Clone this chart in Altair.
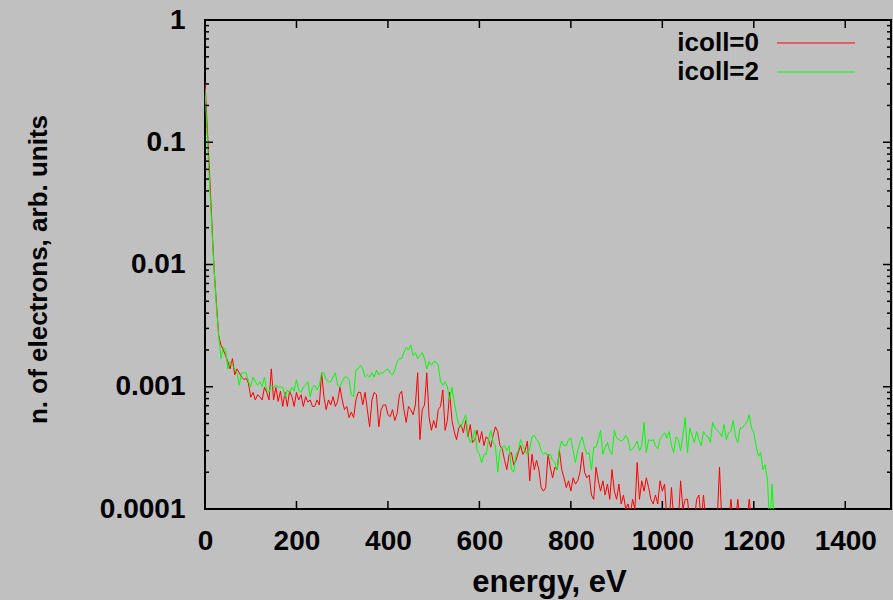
import altair as alt
import pandas as pd

# ---------------- data ----------------
series_names = ["icoll=0", "icoll=2"]

energy_red = list(range(0, 1205, 5))
red_values = [
    0.31, 0.13, 0.055, 0.022, 0.009, 0.0048, 0.0026, 0.0022, 0.0020, 0.0018,
    0.0016, 0.0014, 0.0017, 0.00125, 0.0014, 0.0013, 0.0012, 0.00115, 0.00117, 0.00107,
    0.00082, 0.0009, 0.00078, 0.00086, 0.00083, 0.00078, 0.00099, 0.0009, 0.00078, 0.0014,
    0.00078, 0.00099, 0.00076, 0.00092, 0.00069, 0.0009, 0.00069, 0.00092, 0.00083, 0.00069,
    0.0009, 0.00078, 0.00086, 0.00069, 0.00083, 0.00075, 0.00078, 0.00069, 0.00069, 0.00078,
    0.00071, 0.0013, 0.00083, 0.00065, 0.00078, 0.00071, 0.00083, 0.00069, 0.00076, 0.00099,
    0.00078, 0.00065, 0.00069, 0.00056, 0.00062, 0.00056, 0.00078, 0.0009, 0.0009, 0.00071,
    0.0009, 0.00065, 0.00047, 0.00078, 0.0009, 0.00086, 0.00047, 0.00065, 0.00071, 0.00071,
    0.00059, 0.00057, 0.00065, 0.00053, 0.0006, 0.00086, 0.00092, 0.00065, 0.00051, 0.00069,
    0.00065, 0.00059, 0.00071, 0.0013, 0.00037, 0.00065, 0.00071, 0.0013, 0.00056, 0.00044,
    0.00053, 0.00046, 0.00065, 0.00069, 0.00094, 0.00044, 0.00053, 0.0009, 0.00053, 0.00043,
    0.00037, 0.00046, 0.00049, 0.00042, 0.00053, 0.00039, 0.00049, 0.00035, 0.00037, 0.00044,
    0.00035, 0.00043, 0.00033, 0.00039, 0.00037, 0.00032, 0.0004, 0.00047, 0.00043, 0.00033,
    0.00031, 0.00025, 0.00021, 0.00028, 0.00029, 0.00023, 0.00025, 0.00029, 0.00033, 0.00028,
    0.0003, 0.00036, 0.00017, 0.00028, 0.00021, 0.00025, 0.00021, 0.00015, 0.00014, 0.00015,
    0.00028, 0.00022, 0.00018, 0.00022, 0.00021, 0.0003, 0.00021, 0.00018, 0.00015, 0.00017,
    0.00014, 0.00018, 0.00016, 0.00017, 0.0002, 0.00029, 0.0002, 0.00018, 0.00019, 0.00013,
    0.00012, 0.00022, 0.00017, 0.00014, 0.00017, 0.00013, 0.00016, 0.00012, 0.00021, 0.00014,
    0.00012, 0.00016, 0.00011, 0.00013, 0.0001, 0.00011, 0.00009, 0.00012, 0.0001, 0.00024,
    0.00012, 0.00017, 0.00014, 0.00018, 0.00015, 0.00012, 0.00011, 0.00013, 0.00011, 0.00017,
    0.00014, 0.00016, 0.00008, 0.00008, 0.00015, 0.00008, 0.00007, 0.00008, 0.00017, 0.0001,
    0.00012, 0.00012, 0.00008, 0.00007, 0.00008, 0.00012, 0.00013, 0.00008, 0.00013, 0.00008,
    0.00007, 0.00008, 0.00008, 0.00008, 0.00008, 0.00022, 0.00008, 0.00007, 0.00008, 0.00008,
    0.00012, 0.00008, 0.00008, 0.00012, 0.00008, 0.00007, 0.00008, 0.00008, 0.00012, 0.00008,
    0.00007,
]

energy_green = list(range(0, 1250, 5))
green_values = [
    0.27, 0.11, 0.045, 0.02, 0.009, 0.0045, 0.0026, 0.0017, 0.0021, 0.002,
    0.0014, 0.0016, 0.0015, 0.0014, 0.0013, 0.00103, 0.0013, 0.0013, 0.0013, 0.0011,
    0.001, 0.0012, 0.0011, 0.00103, 0.0011, 0.001, 0.0012, 0.00094, 0.0009, 0.00103,
    0.00099, 0.00103, 0.00099, 0.001, 0.00099, 0.00083, 0.00094, 0.0009, 0.00099, 0.00092,
    0.00114, 0.00094, 0.0009, 0.00099, 0.00103, 0.0011, 0.00083, 0.00099, 0.00103, 0.00094,
    0.00103, 0.0013, 0.0013, 0.00114, 0.0011, 0.0011, 0.0012, 0.0013, 0.00103, 0.001,
    0.0011, 0.0012, 0.0012, 0.00114, 0.00086, 0.00083, 0.00137, 0.0014, 0.0015, 0.0014,
    0.0012, 0.00125, 0.0012, 0.0013, 0.0012, 0.00137, 0.00125, 0.0013, 0.0013, 0.00137,
    0.0014, 0.0013, 0.00125, 0.00137, 0.0016, 0.0017, 0.0017, 0.0019, 0.0021, 0.002,
    0.0022, 0.0018, 0.0019, 0.0017, 0.0018, 0.0019, 0.0017, 0.0014, 0.0016, 0.0015,
    0.0016, 0.0016, 0.0015, 0.0011, 0.00103, 0.0011, 0.001, 0.00078, 0.00099, 0.00075,
    0.00059, 0.00049, 0.00047, 0.00053, 0.00059, 0.0004, 0.00035, 0.00037, 0.00044, 0.0003,
    0.00028, 0.00024, 0.00028, 0.00028, 0.00037, 0.00044, 0.00035, 0.00033, 0.0002, 0.0003,
    0.00032, 0.00033, 0.0003, 0.00033, 0.00021, 0.0002, 0.00028, 0.0003, 0.00037, 0.00033,
    0.0003, 0.00028, 0.00031, 0.00039, 0.0004, 0.00037, 0.00035, 0.0003, 0.00028, 0.00029,
    0.00027, 0.00028, 0.00025, 0.00024, 0.00021, 0.00031, 0.00036, 0.00033, 0.00033, 0.00037,
    0.00038, 0.0003, 0.00024, 0.0003, 0.00035, 0.00039, 0.00032, 0.00028, 0.00029, 0.00021,
    0.00032, 0.00032, 0.00037, 0.00044, 0.00028, 0.00032, 0.00035, 0.0003, 0.00028, 0.00044,
    0.00038, 0.00037, 0.00036, 0.00037, 0.0004, 0.00037, 0.0003, 0.00031, 0.00033, 0.00036,
    0.0003, 0.00033, 0.00051, 0.00029, 0.00037, 0.00036, 0.00037, 0.00033, 0.00031, 0.00037,
    0.0004, 0.00042, 0.00038, 0.00043, 0.00033, 0.00029, 0.00039, 0.00037, 0.0003, 0.0004,
    0.00056, 0.00029, 0.00046, 0.0004, 0.00035, 0.00043, 0.00037, 0.00033, 0.00043, 0.0004,
    0.00039, 0.00035, 0.00051, 0.00046, 0.00044, 0.00042, 0.00039, 0.00049, 0.00037, 0.00042,
    0.00043, 0.00053, 0.00039, 0.00035, 0.00046, 0.00046, 0.00049, 0.00051, 0.00059, 0.00046,
    0.00042, 0.00033, 0.00027, 0.00029, 0.00021, 0.00023, 0.00017, 0.00007, 0.00016, 0.00007,
]

x_tick_values = [0, 200, 400, 600, 800, 1000, 1200, 1400]
y_tick_values = [1, 0.1, 0.01, 0.001, 0.0001]
y_minor_values = [m * d for d in [0.0001, 0.001, 0.01, 0.1] for m in range(2, 10)]

# ---------------- layout / style ----------------
W, H = 686, 489
FONT = "Liberation Sans"
LABEL_FS = 28
XTITLE_FS = 31
YTITLE_FS = 26
LEGEND_FS = 26
BG = "#c0c0c0"

xscale = alt.Scale(domain=[0, 1500], nice=False, zero=False)
yscale = alt.Scale(type="log", domain=[0.0001, 1], nice=False)

red_df = pd.DataFrame({"energy": energy_red, "n": red_values})
green_df = pd.DataFrame({"energy": energy_green, "n": green_values})

x_axis = alt.Axis(
    values=x_tick_values, format="d", title="energy, eV", ticks=False, tickSize=0,
    domain=False, grid=False, labelFont=FONT, labelFontSize=LABEL_FS,
    labelFontWeight="bold", labelColor="black", labelPadding=18, labelFlush=False,
    labelOverlap=False, titleFont=FONT, titleFontSize=XTITLE_FS, titleFontWeight="bold",
    titleColor="black", titleX=344, titleY=73, titleBaseline="middle", titleAlign="center",
)
y_axis = alt.Axis(
    values=y_tick_values, format="~g", title="n. of electrons, arb. units",
    ticks=False, tickSize=0, domain=False, grid=False, labelFont=FONT,
    labelFontSize=LABEL_FS, labelFontWeight="bold", labelColor="black", labelPadding=20,
    labelFlush=False, labelOverlap=False, titleFont=FONT, titleFontSize=YTITLE_FS,
    titleFontWeight="bold", titleColor="black", titleX=-167, titleY=249,
    titleAngle=270, titleBaseline="middle", titleAlign="center",
)

red_line = alt.Chart(red_df).mark_line(color="#ff0000", strokeWidth=1, clip=True).encode(
    x=alt.X("energy:Q", scale=xscale, axis=x_axis),
    y=alt.Y("n:Q", scale=yscale, axis=y_axis),
)
green_line = alt.Chart(green_df).mark_line(color="#00ff00", strokeWidth=1, clip=True).encode(
    x=alt.X("energy:Q", scale=xscale),
    y=alt.Y("n:Q", scale=yscale),
)

xt = pd.DataFrame({"v": x_tick_values[1:]})
ymaj = pd.DataFrame({"v": y_tick_values[1:-1]})
ymin = pd.DataFrame({"v": y_minor_values})

tick_style = dict(color="black", strokeWidth=1.5)
x_bottom = alt.Chart(xt).mark_rule(**tick_style).encode(
    x=alt.X("v:Q", scale=xscale), y=alt.value(H), y2=alt.value(H - 8))
x_top = alt.Chart(xt).mark_rule(**tick_style).encode(
    x=alt.X("v:Q", scale=xscale), y=alt.value(0), y2=alt.value(8))
y_left_major = alt.Chart(ymaj).mark_rule(**tick_style).encode(
    y=alt.Y("v:Q", scale=yscale), x=alt.value(0), x2=alt.value(8))
y_right_major = alt.Chart(ymaj).mark_rule(**tick_style).encode(
    y=alt.Y("v:Q", scale=yscale), x=alt.value(W), x2=alt.value(W - 8))
y_left_minor = alt.Chart(ymin).mark_rule(**tick_style).encode(
    y=alt.Y("v:Q", scale=yscale), x=alt.value(0), x2=alt.value(4))
y_right_minor = alt.Chart(ymin).mark_rule(**tick_style).encode(
    y=alt.Y("v:Q", scale=yscale), x=alt.value(W), x2=alt.value(W - 4))

# legend (gnuplot style: text left, line sample right)
leg_text_style = dict(align="right", baseline="middle", font=FONT, fontSize=LEGEND_FS,
                      fontWeight="bold", color="black")
leg0_text = alt.Chart(pd.DataFrame({"t": [series_names[0]]})).mark_text(**leg_text_style).encode(
    text="t:N", x=alt.value(554), y=alt.value(23))
leg1_text = alt.Chart(pd.DataFrame({"t": [series_names[1]]})).mark_text(**leg_text_style).encode(
    text="t:N", x=alt.value(554), y=alt.value(52))
leg0_line = alt.Chart(pd.DataFrame({"t": [series_names[0]]})).mark_rule(color="#ff0000", strokeWidth=1).encode(
    x=alt.value(572), x2=alt.value(650), y=alt.value(23))
leg1_line = alt.Chart(pd.DataFrame({"t": [series_names[1]]})).mark_rule(color="#00ff00", strokeWidth=1).encode(
    x=alt.value(572), x2=alt.value(650), y=alt.value(52))

chart = alt.layer(
    red_line, green_line,
    x_bottom, x_top, y_left_major, y_right_major, y_left_minor, y_right_minor,
    leg0_text, leg1_text, leg0_line, leg1_line,
).properties(
    width=W, height=H,
    autosize=alt.AutoSizeParams(type="none"),
    padding={"left": 205, "top": 20, "right": 2, "bottom": 91},
    background=BG,
).configure_view(
    stroke="black", strokeWidth=2,
)

chart.save("out.html", embed_options={"renderer": "svg", "actions": False})
